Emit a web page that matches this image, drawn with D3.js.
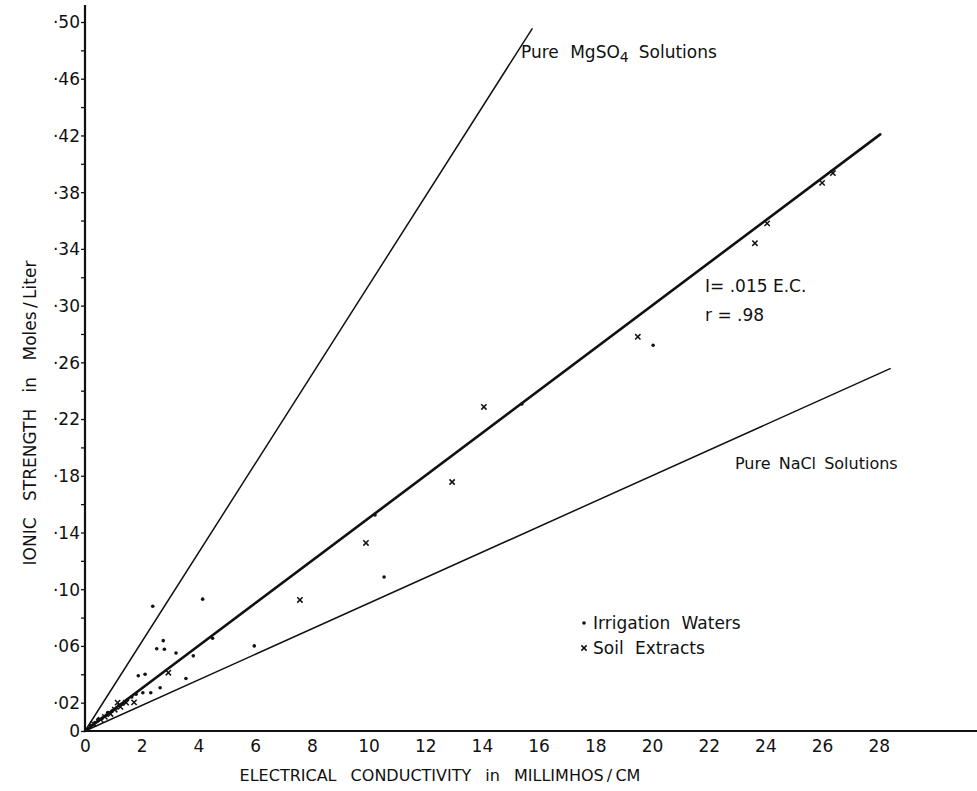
<!DOCTYPE html>
<html>
<head>
<meta charset="utf-8">
<script src="https://cdn.jsdelivr.net/npm/d3@7"></script>
<style>
  html, body { margin: 0; padding: 0; background: #fff; }
  svg { display: block; }
  text { font-family: "DejaVu Sans", "Liberation Sans", sans-serif; fill: #111; }
</style>
</head>
<body>
<svg id="chart" width="977" height="791"></svg>
<script>
// Irrigation waters (dots): electrical conductivity (mmhos/cm) and ionic strength (moles/liter)
const irrigationEC = [0.2, 0.35, 0.45, 0.6, 0.75, 0.8, 0.95, 1.1, 1.2, 1.35, 1.5, 1.65, 1.8,
  1.88, 2.12, 2.04, 2.32, 2.65, 2.39, 2.53, 2.80, 2.76, 3.21, 3.82, 3.56, 4.15, 4.50, 5.97,
  10.23, 10.55, 15.41, 20.04];
const irrigationI = [0.004, 0.006, 0.008, 0.009, 0.011, 0.013, 0.014, 0.016, 0.018, 0.019, 0.022, 0.024, 0.026,
  0.039, 0.040, 0.027, 0.027, 0.0305, 0.088, 0.058, 0.0576, 0.0637, 0.055, 0.053, 0.037, 0.093, 0.0654, 0.060,
  0.1523, 0.1086, 0.2306, 0.272];

// Soil extracts (crosses)
const soilEC = [0.3, 0.55, 0.7, 0.9, 1.05, 1.25, 1.45, 1.15, 1.73, 2.94, 7.58, 9.91, 12.95, 14.07,
  19.5, 23.63, 24.06, 26.0, 26.38];
const soilI = [0.005, 0.008, 0.010, 0.012, 0.015, 0.017, 0.020, 0.020, 0.0202, 0.0411, 0.0924, 0.1326, 0.1756, 0.2285,
  0.278, 0.344, 0.358, 0.3865, 0.3935];

// Reference lines through the origin: I = slope * EC
const lineNames = ["MgSO4", "fit", "NaCl"];
const lineSlopes = [0.0314, 0.015, 0.0090];
const lineEnds = [15.77, 28.05, 28.4];
const lineWidths = [1.5, 2.6, 1.5];

// Tick labels
const xTicks = [0, 2, 4, 6, 8, 10, 12, 14, 16, 18, 20, 22, 24, 26, 28];
const yTicks = [0, 0.02, 0.04, 0.06, 0.08, 0.10, 0.12, 0.14, 0.16, 0.18, 0.20, 0.22, 0.24,
  0.26, 0.28, 0.30, 0.32, 0.34, 0.36, 0.38, 0.40, 0.42, 0.44, 0.46, 0.48, 0.50];
const yLabelled = [0, 0.02, 0.06, 0.10, 0.14, 0.18, 0.22, 0.26, 0.30, 0.34, 0.38, 0.42, 0.46, 0.50];

const svg = d3.select("#chart");

const x = d3.scaleLinear().domain([0, 28]).range([85, 85 + 28 * 28.35]);
const y = d3.scaleLinear().domain([0, 0.5]).range([731, 22]);

// Axis lines
svg.append("line")
  .attr("x1", x(0)).attr("x2", x(31.5))
  .attr("y1", y(0)).attr("y2", y(0))
  .attr("stroke", "#111").attr("stroke-width", 2);
svg.append("line")
  .attr("x1", x(0)).attr("x2", x(0))
  .attr("y1", y(0)).attr("y2", y(0.512))
  .attr("stroke", "#111").attr("stroke-width", 2.2);

// Y axis ticks and labels
const fmtY = v => v === 0 ? "0" : "\u00B7" + d3.format(".2f")(v).slice(2);
const yAxis = d3.axisLeft(y)
  .tickValues(yTicks)
  .tickSize(4)
  .tickPadding(1)
  .tickFormat(v => yLabelled.some(l => Math.abs(l - v) < 1e-9) ? fmtY(v) : "");
const gy = svg.append("g").attr("transform", `translate(${x(0)},0)`).call(yAxis);
gy.select(".domain").remove();
gy.selectAll(".tick line").attr("stroke", "#111").attr("stroke-width", 1.3);
gy.selectAll(".tick text")
  .style("font-size", "17px")
  .style("font-family", "'DejaVu Sans', sans-serif")
  .attr("fill", "#111")
  .attr("dy", "0.35em");

// X axis ticks and labels
const xAxis = d3.axisBottom(x)
  .tickValues(xTicks)
  .tickSize(0)
  .tickPadding(9)
  .tickFormat(d3.format("d"));
const gx = svg.append("g").attr("transform", `translate(0,${y(0)})`).call(xAxis);
gx.select(".domain").remove();
gx.selectAll(".tick text")
  .style("font-size", "17px")
  .style("font-family", "'DejaVu Sans', sans-serif")
  .attr("fill", "#111");

// Axis titles
svg.append("text")
  .attr("x", 440).attr("y", 781)
  .attr("text-anchor", "middle")
  .style("font-size", "16px")
  .style("word-spacing", "9px")
  .text("ELECTRICAL CONDUCTIVITY in MILLIMHOS\u2009/\u2009CM");

svg.append("text")
  .attr("transform", "translate(36,413) rotate(-90)")
  .attr("text-anchor", "middle")
  .style("font-size", "17px")
  .style("word-spacing", "11px")
  .text("IONIC STRENGTH in Moles\u2009/\u2009Liter");

// Reference lines
const lines = lineNames.map((n, i) => ({ name: n, slope: lineSlopes[i], end: lineEnds[i], w: lineWidths[i] }));
svg.append("g").selectAll("line")
  .data(lines)
  .join("line")
  .attr("x1", x(0)).attr("y1", y(0))
  .attr("x2", d => x(d.end)).attr("y2", d => y(d.slope * d.end))
  .attr("stroke", "#111")
  .attr("stroke-width", d => d.w)
  .attr("stroke-linecap", "round");

// Irrigation waters
const irrigation = irrigationEC.map((v, i) => ({ ec: v, ion: irrigationI[i] }));
svg.append("g").selectAll("circle")
  .data(irrigation)
  .join("circle")
  .attr("cx", d => x(d.ec))
  .attr("cy", d => y(d.ion))
  .attr("r", 1.8)
  .attr("fill", "#111");

// Soil extracts
const soil = soilEC.map((v, i) => ({ ec: v, ion: soilI[i] }));
const cross = d3.symbol().type(d3.symbolX).size(20);
svg.append("g").selectAll("path")
  .data(soil)
  .join("path")
  .attr("transform", d => `translate(${x(d.ec)},${y(d.ion)})`)
  .attr("d", cross)
  .attr("fill", "none")
  .attr("stroke", "#111")
  .attr("stroke-width", 1.5);

// Line annotations
const mg = svg.append("text")
  .attr("x", 521).attr("y", 58)
  .style("font-size", "17px");
mg.append("tspan").text("Pure MgSO");
mg.append("tspan").attr("dy", 4).style("font-size", "14px").text("4");
mg.append("tspan").attr("dy", -4).attr("dx", 10).text("Solutions");
mg.select("tspan").style("word-spacing", "6px");

svg.append("text")
  .attr("x", 735).attr("y", 469)
  .style("font-size", "16px")
  .style("word-spacing", "3px")
  .text("Pure NaCl Solutions");

svg.append("text")
  .attr("x", 705).attr("y", 292)
  .style("font-size", "17px")
  .text("I= .015 E.C.");
svg.append("text")
  .attr("x", 705).attr("y", 321)
  .style("font-size", "17px")
  .text("r = .98");

// Legend
const legend = svg.append("g");
legend.append("circle")
  .attr("cx", 584).attr("cy", 623).attr("r", 1.8).attr("fill", "#111");
legend.append("text")
  .attr("x", 593).attr("y", 629)
  .style("font-size", "17px")
  .style("word-spacing", "6px")
  .text("Irrigation Waters");
legend.append("path")
  .attr("transform", "translate(584,648)")
  .attr("d", cross)
  .attr("fill", "none").attr("stroke", "#111").attr("stroke-width", 1.5);
legend.append("text")
  .attr("x", 593).attr("y", 654)
  .style("font-size", "17px")
  .style("word-spacing", "6px")
  .text("Soil Extracts");
</script>
</body>
</html>
